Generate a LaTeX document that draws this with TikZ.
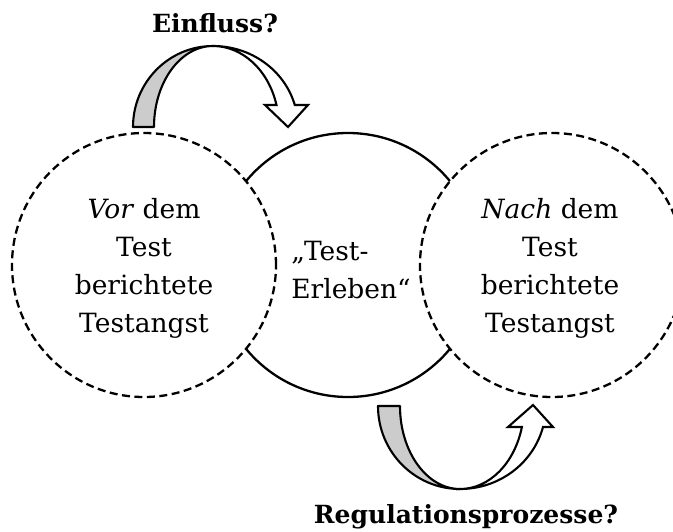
\documentclass[tikz,border=0pt]{standalone}
\usepackage{fontspec}
\setmainfont{DejaVu Serif}
\begin{document}
\begin{tikzpicture}[x=1pt,y=-1pt,
  ring/.style={circle,draw=black,line width=2.3pt,fill=white,minimum size=264pt,inner sep=0pt},
  dashring/.style={ring,dash pattern=on 8pt off 4.5pt},
  arrback/.style={draw=black,line width=2.1pt,fill=black!20,line join=round},
  arrfront/.style={draw=black,line width=2.1pt,fill=white,line join=miter},
  circtext/.style={font=\fontsize{26.5}{38}\selectfont,inner sep=0pt},
  tagtext/.style={font=\fontsize{25}{30}\selectfont\bfseries,anchor=base,inner sep=0pt}]
\useasboundingbox (0,0) rectangle (673,531);
\clip (0,0) rectangle (673,531);

% the three circles: the solid one in the middle, the dashed ones on top of it
\node[ring] (mid) at (348,265) {};
\node[dashring] (pre) at (144,265) {};
\node[dashring] (post) at (552,265) {};

% texts inside the circles
\node[circtext,align=center] (pretext) at (pre.center) [yshift=-3pt] {\textit{Vor} dem\\Test\\berichtete\\Testangst};
\node[circtext,align=left] (midtext) at (351,270) {„Test-\\Erleben“};
\node[circtext,align=center] (posttext) at (550,265) [yshift=-3pt] {\textit{Nach} dem\\Test\\berichtete\\Testangst};

% upper curved arrow: from the left circle towards the middle one
\coordinate (upTail) at (133,127);
\coordinate (upTop) at (213,46);
\coordinate (upTip) at (288,127);
\draw[arrback] (upTail) arc[start angle=180,end angle=270,x radius=80,y radius=81]
  arc[start angle=270,end angle=180,x radius=59,y radius=81] -- cycle;
\draw[arrfront] (upTop) arc[start angle=270,end angle=344.24,x radius=85,y radius=81]
  -- (308,105) -- (upTip) -- (265,105) -- (276.5,105)
  arc[start angle=344.24,end angle=270,x radius=66,y radius=81] -- cycle;
\node[tagtext] (infl) at (215,32) {Einfluss?};

% lower curved arrow: from the middle circle towards the right one
\coordinate (lowTail) at (378,406);
\coordinate (lowBottom) at (460,489);
\coordinate (lowTip) at (533,405);
\draw[arrback] (lowTail) arc[start angle=180,end angle=90,x radius=82,y radius=83]
  arc[start angle=90,end angle=180,x radius=60,y radius=83] -- cycle;
\draw[arrfront] (lowBottom) arc[start angle=90,end angle=14.65,x radius=85.8,y radius=83]
  -- (553,427) -- (lowTip) -- (508,427) -- (521.9,427)
  arc[start angle=14.65,end angle=90,x radius=64,y radius=83] -- cycle;
\node[tagtext] (regul) at (466,523) {Regulationsprozesse?};
\end{tikzpicture}
\end{document}
